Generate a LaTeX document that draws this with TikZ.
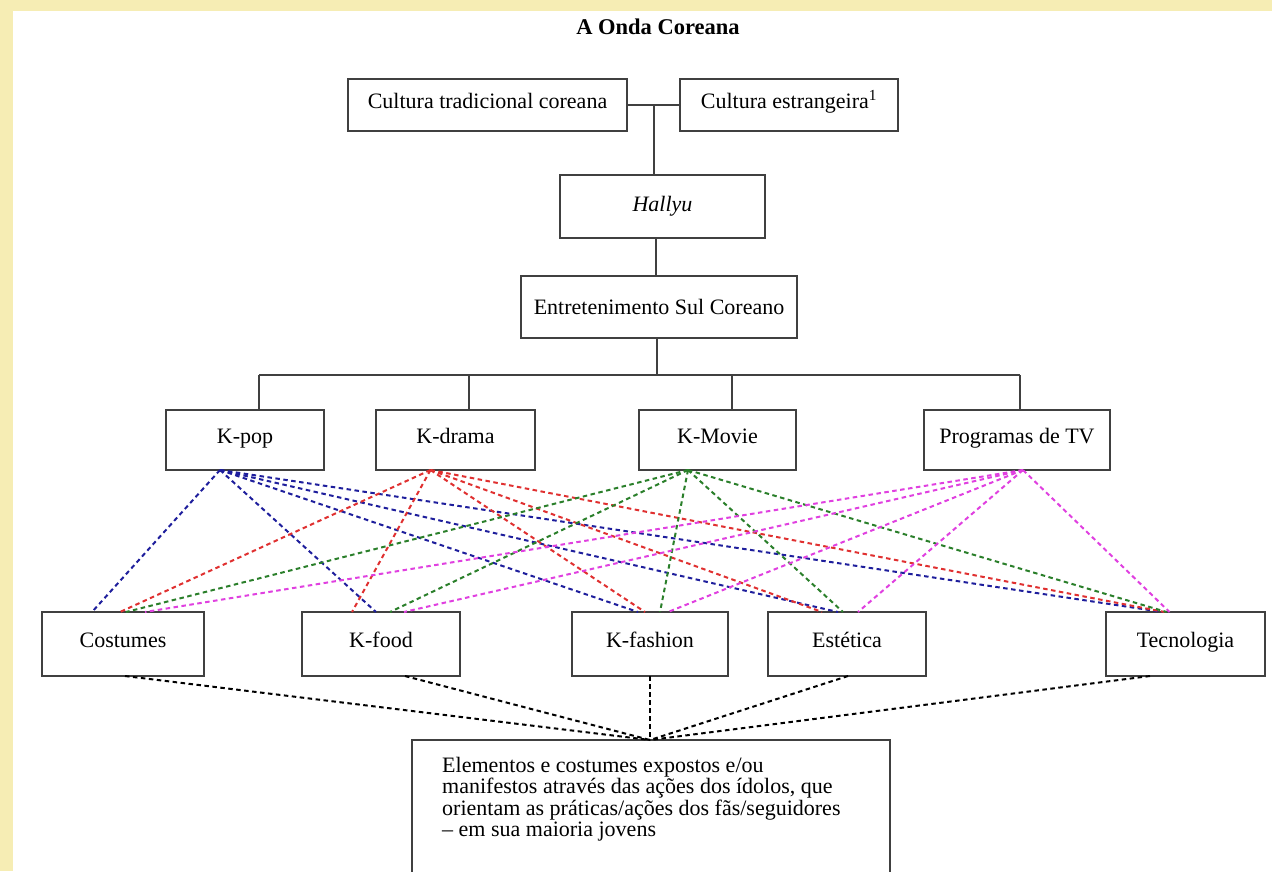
\documentclass[tikz,border=0pt]{standalone}
\usepackage{fontspec}
\setmainfont{Liberation Serif}
\usetikzlibrary{calc}
\definecolor{bgyellow}{HTML}{F6EDB4}
\definecolor{lblue}{HTML}{1E1E9C}
\definecolor{lred}{HTML}{E03030}
\definecolor{lgreen}{HTML}{2A7F2A}
\definecolor{lmag}{HTML}{E040E0}
\definecolor{boxline}{HTML}{404040}
\tikzset{
  box/.style={draw=boxline, line width=1.3pt, fill=white, rectangle, inner sep=0pt, outer sep=0pt,
    font=\fontsize{22}{25}\selectfont},
  raised/.style={text height=15pt, text depth=8pt},
  solidcon/.style={draw=boxline, line width=1.3pt},
  dcon/.style={line width=2pt, dash pattern=on 4.5pt off 3.5pt},
}
\begin{document}
\begin{tikzpicture}[x=1pt,y=-1pt]
\useasboundingbox (0,0) rectangle (1272,871);
\clip (0,0) rectangle (1272,871);
\fill[bgyellow] (0,0) rectangle (1272,871);
\fill[white] (13,11) rectangle (1272,871);

% title
\node[font=\fontsize{22.5}{25}\selectfont\bfseries] (title) at (658,27) {A Onda Coreana};

% top boxes
\node[box, raised, minimum width=279pt, minimum height=52pt] (trad) at (487.5,105) {Cultura tradicional coreana};
\node[box, raised, minimum width=218pt, minimum height=52pt] (estr) at (789,105) {Cultura estrangeira\textsuperscript{1}};
\node[box, minimum width=205pt, minimum height=63pt] (hallyu) at (662.5,206.5) {\itshape Hallyu};
\node[box, minimum width=276pt, minimum height=62pt] (entre) at (659,307) {Entretenimento Sul Coreano};

% middle row
\node[box, raised, minimum width=158pt, minimum height=60pt] (kpop) at (245,440) {K-pop};
\node[box, raised, minimum width=159pt, minimum height=60pt] (kdrama) at (455.5,440) {K-drama};
\node[box, raised, minimum width=157pt, minimum height=60pt] (kmovie) at (717.5,440) {K-Movie};
\node[box, raised, minimum width=186pt, minimum height=60pt] (prog) at (1017,440) {Programas de TV};

% bottom row
\node[box, raised, minimum width=162pt, minimum height=64pt] (cost) at (123,644) {Costumes};
\node[box, raised, minimum width=158pt, minimum height=64pt] (kfood) at (381,644) {K-food};
\node[box, raised, minimum width=156pt, minimum height=64pt] (kfash) at (650,644) {K-fashion};
\node[box, raised, minimum width=158pt, minimum height=64pt] (estet) at (847,644) {Estética};
\node[box, raised, minimum width=159pt, minimum height=64pt] (tecno) at (1185.5,644) {Tecnologia};

% final box
\node[box, minimum width=478pt, minimum height=200pt] (elem) at (651,840) {};
\node[anchor=north west, inner sep=0pt, align=left, font=\fontsize{22}{21.5}\selectfont] (elemtext) at (442,757)
  {Elementos e costumes expostos e/ou\\manifestos através das ações dos ídolos, que\\orientam as práticas/ações dos fãs/seguidores\\– em sua maioria jovens};

% solid tree connectors
\coordinate (j) at (654,105);
\draw[solidcon] (trad.east) -- (estr.west);
\draw[solidcon] (j) -- (j |- hallyu.north);
\coordinate (c1) at (656,0);
\draw[solidcon] (c1 |- hallyu.south) -- (c1 |- entre.north);
\coordinate (c2) at (657,0);
\coordinate (busy) at (0,375);
\draw[solidcon] (c2 |- entre.south) -- (c2 |- busy);
\coordinate (dkpop) at (259,375);
\coordinate (dkdrama) at (469,375);
\coordinate (dkmovie) at (732,375);
\coordinate (dprog) at (1020,375);
\draw[solidcon] (dkpop) -- (dprog);
\draw[solidcon] (dkpop) -- (dkpop |- kpop.north);
\draw[solidcon] (dkdrama) -- (dkdrama |- kdrama.north);
\draw[solidcon] (dkmovie) -- (dkmovie |- kmovie.north);
\draw[solidcon] (dprog) -- (dprog |- prog.north);

% origins of dashed lines
\coordinate (okpop) at ($(kpop.south)+(-25,0)$);
\coordinate (okdrama) at ($(kdrama.south)+(-25,0)$);
\coordinate (okmovie) at ($(kmovie.south)+(-29.5,0)$);
\coordinate (oprog) at ($(prog.south)+(6,0)$);

% blue (K-pop)
\draw[dcon, lblue] (okpop) -- ($(cost.north)+(-31,0)$);
\draw[dcon, lblue] (okpop) -- ($(kfood.north)+(-5,0)$);
\draw[dcon, lblue] (okpop) -- ($(kfash.north)+(-12,0)$);
\draw[dcon, lblue] (okpop) -- ($(estet.north)+(-9,0)$);
\draw[dcon, lblue] (okpop) -- ($(tecno.north)+(-23,0)$);
% red (K-drama)
\draw[dcon, lred] (okdrama) -- ($(cost.north)+(-3,0)$);
\draw[dcon, lred] (okdrama) -- ($(kfood.north)+(-29,0)$);
\draw[dcon, lred] (okdrama) -- ($(kfash.north)+(-5,0)$);
\draw[dcon, lred] (okdrama) -- ($(estet.north)+(-25,0)$);
\draw[dcon, lred] (okdrama) -- ($(tecno.north)+(-21,0)$);
% green (K-Movie)
\draw[dcon, lgreen] (okmovie) -- ($(cost.north)+(3,0)$);
\draw[dcon, lgreen] (okmovie) -- ($(kfood.north)+(9,0)$);
\draw[dcon, lgreen] (okmovie) -- ($(kfash.north)+(10,0)$);
\draw[dcon, lgreen] (okmovie) -- ($(estet.north)+(-4,0)$);
\draw[dcon, lgreen] (okmovie) -- ($(tecno.north)+(-19,0)$);
% magenta (Programas de TV)
\draw[dcon, lmag] (oprog) -- ($(cost.north)+(22,0)$);
\draw[dcon, lmag] (oprog) -- ($(kfood.north)+(23,0)$);
\draw[dcon, lmag] (oprog) -- ($(kfash.north)+(18,0)$);
\draw[dcon, lmag] (oprog) -- ($(estet.north)+(11,0)$);
\draw[dcon, lmag] (oprog) -- ($(tecno.north)+(-16,0)$);

% black dashed to final box
\draw[dcon, black] ($(cost.south)+(2,0)$) -- ($(elem.north)+(-1,0)$);
\draw[dcon, black] ($(kfood.south)+(24,0)$) -- ($(elem.north)+(-1,0)$);
\draw[dcon, black] (kfash.south) -- ($(elem.north)+(-1,0)$);
\draw[dcon, black] ($(estet.south)+(1,0)$) -- ($(elem.north)+(-1,0)$);
\draw[dcon, black] ($(tecno.south)+(-35.5,0)$) -- ($(elem.north)+(-1,0)$);
\end{tikzpicture}
\end{document}
